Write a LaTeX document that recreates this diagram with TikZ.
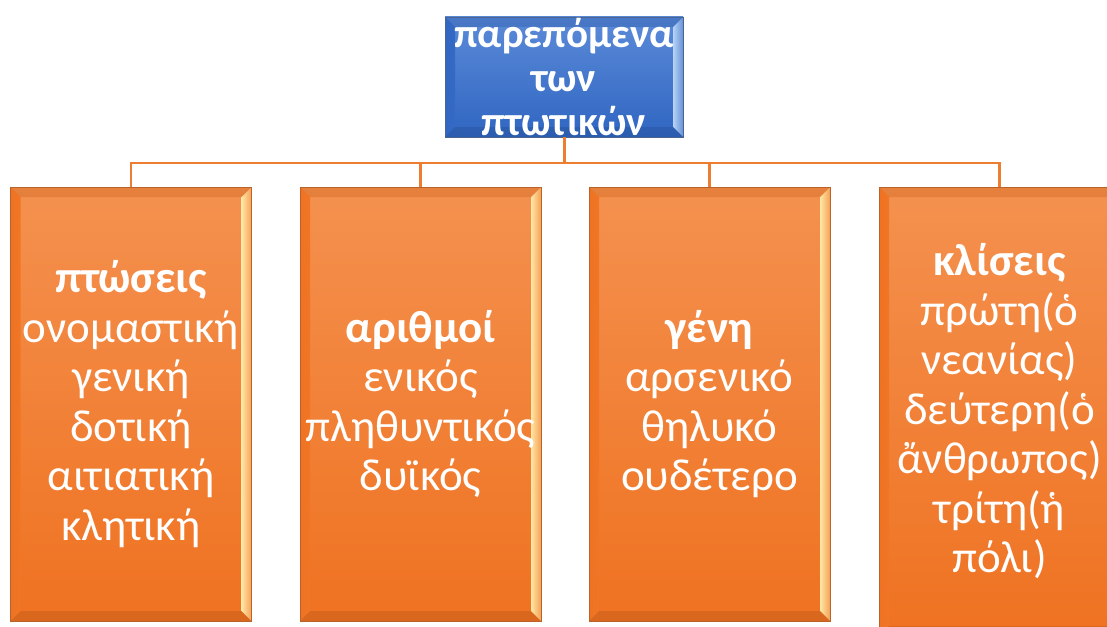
\documentclass[tikz,border=0pt]{standalone}
\usepackage{fontspec}
\setmainfont{Carlito}
\usetikzlibrary{calc}

\definecolor{orTop}{HTML}{F4914F}
\definecolor{orBot}{HTML}{EF7221}
\definecolor{orLine}{HTML}{ED7D31}
\definecolor{orEdge}{HTML}{B9622A}
\definecolor{orLight}{HTML}{FFE7A6}
\definecolor{blTop}{HTML}{5B8AD8}
\definecolor{blBot}{HTML}{3066C2}
\definecolor{blEdge}{HTML}{4A6590}
\definecolor{blLight}{HTML}{B7D3F5}

\tikzset{
  bevel/.style 2 args={path picture={
    % left, right, top and bottom edges of the bevel
    \shade[left color=#1,right color=#2]
      (path picture bounding box.north west) -- ($(path picture bounding box.north west)+(10pt,-10pt)$)
      -- ($(path picture bounding box.south west)+(10pt,10pt)$) -- (path picture bounding box.south west) -- cycle;
    \shade[left color=#2,right color=#2!40!#1]
      (path picture bounding box.north east) -- ($(path picture bounding box.north east)+(-10pt,-10pt)$)
      -- ($(path picture bounding box.south east)+(-10pt,10pt)$) -- (path picture bounding box.south east) -- cycle;
    \fill[#1!85!black,opacity=0.35]
      (path picture bounding box.north west) -- (path picture bounding box.north east)
      -- ($(path picture bounding box.north east)+(-10pt,-10pt)$) -- ($(path picture bounding box.north west)+(10pt,-10pt)$) -- cycle;
    \fill[#1!80!black,opacity=0.45]
      (path picture bounding box.south west) -- (path picture bounding box.south east)
      -- ($(path picture bounding box.south east)+(-10pt,10pt)$) -- ($(path picture bounding box.south west)+(10pt,10pt)$) -- cycle;
  }}
}

\begin{document}
\begin{tikzpicture}[x=1pt,y=-1pt]
\tikzset{
  every node/.style={text=white,align=center,inner sep=0pt},
  head/.style={minimum width=238pt,minimum height=120pt,top color=blTop,bottom color=blBot,
    draw=blEdge,line width=0.8pt,bevel={blBot}{blLight},font=\bfseries\fontsize{41}{44}\selectfont},
  child/.style={minimum width=241pt,minimum height=434pt,top color=orTop,bottom color=orBot,
    draw=orEdge,line width=0.8pt,bevel={orBot}{orLight},font=\fontsize{45}{49.5}\selectfont},
  link/.style={draw=orLine,line width=2.4pt}
}
\useasboundingbox (0,0) rectangle (1107,626);

\node[head] (top) at (564,77) {παρεπόμενα\\των\\πτωτικών};
\node[child] (ptoseis) at (131,404) {\textbf{πτώσεις}\\ονομαστική\\γενική\\δοτική\\αιτιατική\\κλητική};
\node[child] (arithmoi) at (420.5,404) {\textbf{αριθμοί}\\ενικός\\πληθυντικός\\δυϊκός};
\node[child] (genh) at (709.5,404) {\textbf{γένη}\\αρσενικό\\θηλυκό\\ουδέτερο};
\node[child,minimum height=449pt] (kliseis) at (999.5,411.5) {\textbf{κλίσεις}\\πρώτη(ὁ\\νεανίας)\\δεύτερη(ὁ\\ἄνθρωπος)\\τρίτη(ἡ\\πόλι)};

\coordinate (bus) at (564,163);
\draw[link,line width=3pt] (top.south) -- (top.south |- bus);
\foreach \c in {ptoseis,arithmoi,genh,kliseis}
  \draw[link] (top.south |- bus) -| (\c.north);
\end{tikzpicture}
\end{document}
